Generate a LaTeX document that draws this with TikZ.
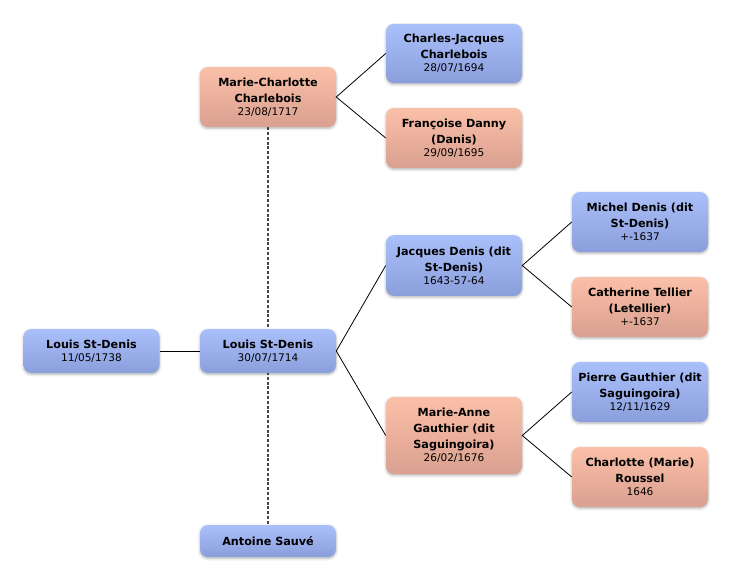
\documentclass[tikz,border=0pt]{standalone}
\usepackage{fontspec}
\setmainfont{DejaVu Sans}
\usetikzlibrary{shadows.blur,backgrounds}
\definecolor{btop}{RGB}{170,192,250}
\definecolor{bbot}{RGB}{138,158,220}
\definecolor{stop}{RGB}{250,192,168}
\definecolor{sbot}{RGB}{218,160,144}
\definecolor{dashgray}{RGB}{70,70,70}
\newcommand{\nm}[1]{{\fontsize{8.4}{12}\selectfont\bfseries #1}}
\newcommand{\dt}[1]{{\fontsize{7.9}{10}\selectfont #1}}
\tikzset{
  person/.style={rounded corners=6pt, minimum width=102pt, align=center, inner sep=1pt,
    blur shadow={shadow xshift=0pt, shadow yshift=-1pt, shadow blur radius=2pt, shadow opacity=30}},
  male/.style={person, top color=btop, bottom color=bbot},
  female/.style={person, top color=stop, bottom color=sbot},
  link/.style={draw=black, line width=0.6pt},
  spouse/.style={draw=dashgray, line width=1.1pt, dash pattern=on 2.2pt off 1.4pt}
}
\begin{document}
\begin{tikzpicture}[x=0.75pt,y=-0.75pt]
\useasboundingbox (0,0) rectangle (732,582);
\node[male, minimum height=33pt] (l1) at (91.5,351) {\nm{Louis St-Denis}\\[-2pt]\dt{11/05/1738}};
\node[male, minimum height=33pt] (l2) at (268,351) {\nm{Louis St-Denis}\\[-2pt]\dt{30/07/1714}};
\node[female, minimum height=45pt] (mc) at (268,97) {\nm{Marie-Charlotte}\\\nm{Charlebois}\\[-2pt]\dt{23/08/1717}};
\node[male, minimum height=24pt] (as) at (268,541) {\nm{Antoine Sauvé}};
\node[male, minimum height=44.5pt] (cj) at (454,53.5) {\nm{Charles-Jacques}\\\nm{Charlebois}\\[-2pt]\dt{28/07/1694}};
\node[female, minimum height=45pt] (fd) at (454,138) {\nm{Françoise Danny}\\\nm{(Danis)}\\[-2pt]\dt{29/09/1695}};
\node[male, minimum height=45.5pt] (jd) at (454,265.5) {\nm{Jacques Denis (dit}\\\nm{St-Denis)}\\[-2pt]\dt{1643-57-64}};
\node[female, minimum height=58pt] (ma) at (454,435.5) {\nm{Marie-Anne}\\\nm{Gauthier (dit}\\\nm{Saguingoira)}\\[-2pt]\dt{26/02/1676}};
\node[male, minimum height=45pt] (md) at (640,222) {\nm{Michel Denis (dit}\\\nm{St-Denis)}\\[-2pt]\dt{+-1637}};
\node[female, minimum height=45pt] (ct) at (640,307) {\nm{Catherine Tellier}\\\nm{(Letellier)}\\[-2pt]\dt{+-1637}};
\node[male, minimum height=45pt] (pg) at (640,392) {\nm{Pierre Gauthier (dit}\\\nm{Saguingoira)}\\[-2pt]\dt{12/11/1629}};
\node[female, minimum height=45pt] (cr) at (640,477) {\nm{Charlotte (Marie)}\\\nm{Roussel}\\[-2pt]\dt{1646}};
\begin{scope}[on background layer]
\draw[spouse] (mc.south) -- (as.north);
\end{scope}
\draw[link] (l1.east) -- (l2.west);
\draw[link] (cj.west) -- (mc.east) -- (fd.west);
\draw[link] (jd.west) -- (l2.east) -- (ma.west);
\draw[link] (md.west) -- (jd.east) -- (ct.west);
\draw[link] (pg.west) -- (ma.east) -- (cr.west);
\end{tikzpicture}
\end{document}
